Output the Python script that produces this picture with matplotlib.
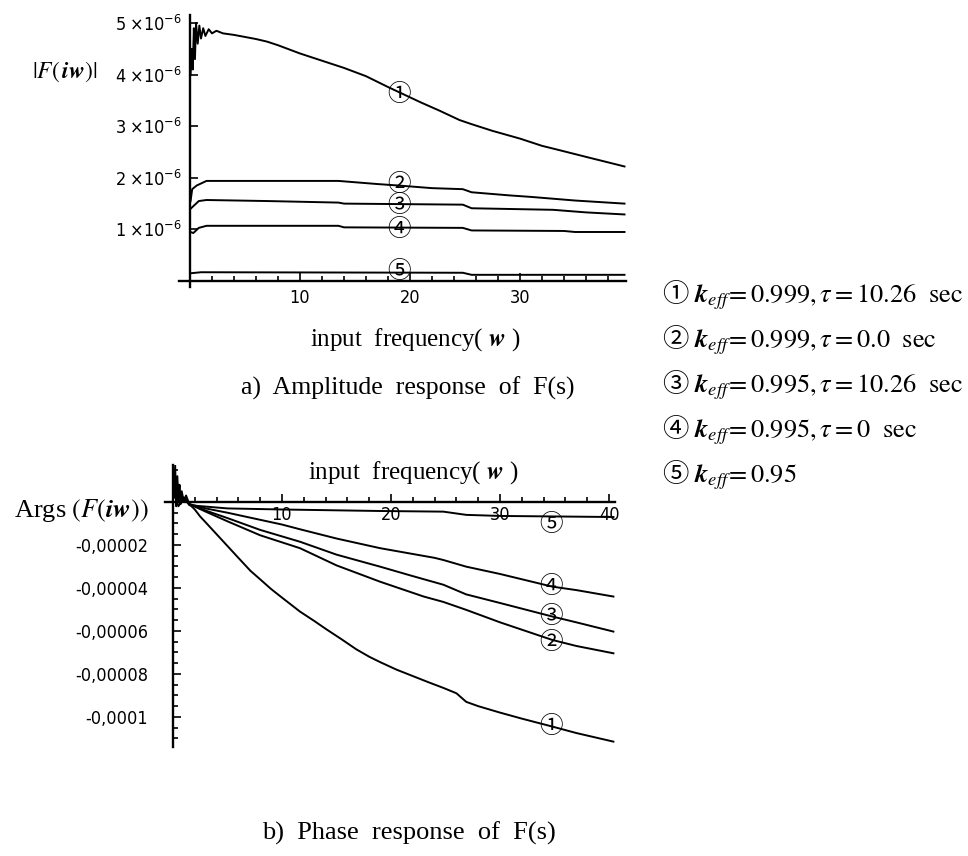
import numpy as np
import matplotlib
matplotlib.use("Agg")
import matplotlib.pyplot as plt
from matplotlib import font_manager
from matplotlib.font_manager import FontProperties
from matplotlib.mathtext import MathTextParser
from matplotlib.ticker import MultipleLocator

plt.rcParams['mathtext.fontset'] = 'stix'
plt.rcParams['font.family'] = ['Liberation Serif', 'DejaVu Serif']

avail = {f.name for f in font_manager.fontManager.ttflist}
TICKPROP = None
if 'Liberation Sans Narrow' in avail:
    TICKPROP = FontProperties(family='Liberation Sans Narrow', size=13)
else:
    try:
        p = font_manager.findfont(FontProperties(family='DejaVu Sans', stretch='condensed'))
        if 'Condensed' in p:
            TICKPROP = FontProperties(fname=p, size=13)
    except Exception:
        TICKPROP = None
if TICKPROP is None:
    TICKPROP = FontProperties(family='Liberation Sans', size=13)
CIRCFONT = ['Noto Sans CJK JP', 'DejaVu Sans']


def mt_ok(s):
    try:
        MathTextParser('path').parse(s)
        return True
    except Exception:
        return False


BOLD = mt_ok(r"$\boldsymbol{k}$")


def bsym(t):
    return r"\boldsymbol{%s}" % t if BOLD else t


# ---------------- data: a) amplitude |F(iw)| (units of 1e-6) ----------------
amp_w1 = [0.05, 0.15, 0.25, 0.35, 0.45, 0.55, 0.7, 0.85, 1.0, 1.2, 1.4, 1.7, 2.0,
          2.4, 3, 4, 5, 6, 7, 8, 9, 10, 12, 14, 16, 18, 19.4, 21, 22.7, 24.5, 25.6,
          27.5, 30, 32, 33.7, 36.3, 38, 39.5]
amp_v1 = [4.0, 4.5, 4.1, 4.9, 4.3, 5.0, 4.6, 4.95, 4.7, 4.9, 4.75, 4.88, 4.8,
          4.85, 4.8, 4.77, 4.73, 4.69, 4.64, 4.57, 4.49, 4.41, 4.27, 4.13, 3.97, 3.76, 3.62,
          3.46, 3.3, 3.12, 3.04, 2.91, 2.76, 2.62, 2.53, 2.39, 2.3, 2.22]
amp_w2 = [0.05, 0.2, 0.6, 1.5, 13.5, 17, 19, 22, 24.8, 25.6, 29, 31, 35, 38, 39.5]
amp_v2 = [1.55, 1.78, 1.85, 1.94, 1.94, 1.88, 1.85, 1.80, 1.78, 1.72, 1.66, 1.63, 1.56, 1.52, 1.50]
amp_w3 = [0.05, 0.3, 0.8, 1.5, 7, 13.5, 14, 24.8, 25.6, 33, 36, 39.5]
amp_v3 = [1.40, 1.45, 1.55, 1.57, 1.55, 1.52, 1.50, 1.48, 1.41, 1.38, 1.33, 1.29]
amp_w4 = [0.05, 0.3, 0.8, 1.5, 13.5, 14, 24.8, 25.6, 34, 35, 39.5]
amp_v4 = [0.95, 0.93, 1.03, 1.07, 1.07, 1.04, 1.03, 0.98, 0.97, 0.95, 0.95]
amp_w5 = [0.05, 1.0, 24.8, 25.6, 39.5]
amp_v5 = [0.15, 0.17, 0.16, 0.12, 0.12]

amp_ticks = [1, 2, 3, 4, 5]
amp_ticklabels = [r"$\mathregular{%d\ {\times}10^{-6}}$" % k for k in amp_ticks]
freq_ticks_a = [10, 20, 30]

# ---------------- data: b) phase Arg(F(iw)) (units of 1e-5) ----------------
ph_w1 = [0.1, 0.2, 0.3, 0.4, 0.5, 0.6, 0.7, 0.8, 1.0, 1.2, 1.5, 2.0, 2.5, 3, 4, 5, 6, 7.1,
         8, 9, 10, 11.65, 13, 14, 15.5, 16.8, 18, 19, 20.5, 22, 23.5, 24.8, 26, 26.9,
         28, 30, 32, 34.8, 37, 40.4]
ph_v1 = [0.2, 1.7, -0.2, 1.2, 0.1, 0.8, -0.1, 0.5, 0.0, 0.3, -0.1, -0.35, -0.68, -0.95,
         -1.5, -2.05, -2.6, -3.2, -3.6, -4.05, -4.45, -5.1, -5.55, -5.9, -6.4, -6.85,
         -7.2, -7.45, -7.8, -8.1, -8.4, -8.65, -8.9, -9.3, -9.5, -9.8, -10.08, -10.45,
         -10.75, -11.15]
ph_w2 = [0.1, 0.5, 1.0, 1.5, 3, 5, 8, 11.65, 15, 19, 23, 24.8, 26.9, 30, 34.8, 37, 40.4]
ph_v2 = [0.3, 0.1, 0.2, -0.1, -0.45, -0.9, -1.55, -2.15, -2.95, -3.71, -4.4, -4.65, -5.02,
         -5.6, -6.42, -6.7, -7.04]
ph_w3 = [0.1, 0.5, 1.0, 1.5, 3, 5, 8, 11.65, 15, 19, 22, 24.8, 26.9, 30, 34.8, 37, 40.4]
ph_v3 = [0.3, 0.1, 0.2, -0.1, -0.4, -0.75, -1.3, -1.85, -2.45, -3.01, -3.45, -3.85, -4.3,
         -4.7, -5.33, -5.6, -6.03]
ph_w4 = [0.1, 0.5, 1.0, 1.5, 3, 5, 10, 11.65, 15, 19, 24, 24.8, 26.9, 30, 34.8, 37, 40.4]
ph_v4 = [0.3, 0.1, 0.2, -0.1, -0.3, -0.5, -1.05, -1.27, -1.7, -2.15, -2.6, -2.7, -3.01,
         -3.35, -3.94, -4.1, -4.40]
ph_w5 = [0.1, 0.5, 1.0, 1.5, 5, 10, 19, 24.8, 26.9, 30, 40.4]
ph_v5 = [0.5, -0.2, 0.2, -0.15, -0.3, -0.35, -0.42, -0.45, -0.6, -0.65, -0.7]

ph_ticks = [-2e-5, -4e-5, -6e-5, -8e-5, -1e-4]
ph_ticklabels = ["-0,00002", "-0,00004", "-0,00006", "-0,00008", "-0,0001"]
freq_ticks_b = [10, 20, 30, 40]

curve_marks = ["①", "②", "③", "④", "⑤"]
legend_lines = [
    r"① $%s_{eff}\!=0.999,\tau=10.26\ \ \mathrm{sec}$" % bsym('k'),
    r"② $%s_{eff}\!=0.999,\tau=0.0\ \ \mathrm{sec}$" % bsym('k'),
    r"③ $%s_{eff}\!=0.995,\tau=10.26\ \ \mathrm{sec}$" % bsym('k'),
    r"④ $%s_{eff}\!=0.995,\tau=0\ \ \mathrm{sec}$" % bsym('k'),
    r"⑤ $%s_{eff}\!=0.95$" % bsym('k'),
]

# ---------------- figure ----------------
W, H = 968, 856
fig = plt.figure(figsize=(W / 100, H / 100), dpi=100)


def fx(px):
    return px / W


def fy(py):
    return 1 - py / H


def style_axes(ax):
    for s in ('top', 'right'):
        ax.spines[s].set_visible(False)
    for s in ('left', 'bottom'):
        ax.spines[s].set_position(('data', 0))
        ax.spines[s].set_linewidth(1.7)
        ax.spines[s].set_color('black')
    ax.tick_params(which='both', direction='in', color='black', width=1.2)
    ax.tick_params(which='major', length=6)
    ax.tick_params(which='minor', length=3.5)
    ax.patch.set_alpha(0)


def set_tick_font(ax):
    for lab in ax.get_xticklabels() + ax.get_yticklabels():
        lab.set_fontproperties(TICKPROP)


# a) amplitude
ax1 = fig.add_axes([fx(179), fy(287.2), fx(625.6) - fx(179), fy(15.3) - fy(287.2)])
AMP = 1e-6
for w, v in [(amp_w1, amp_v1), (amp_w2, amp_v2), (amp_w3, amp_v3), (amp_w4, amp_v4), (amp_w5, amp_v5)]:
    ax1.plot(w, np.array(v) * AMP, color='black', lw=1.4)
ax1.set_xlim(-1, 39.6)
ax1.set_ylim(-0.12e-6, 5.15e-6)
style_axes(ax1)
ax1.set_xticks(freq_ticks_a)
ax1.set_xticklabels([str(t) for t in freq_ticks_a])
ax1.xaxis.set_minor_locator(MultipleLocator(2))
ax1.set_yticks([t * AMP for t in amp_ticks])
ax1.set_yticklabels(amp_ticklabels)
set_tick_font(ax1)
ax1.tick_params(axis='x', which='major', pad=6)
ax1.tick_params(axis='y', which='major', pad=6)

amp_mark_w = 19.0
amp_mark_v = [3.62, 1.88, 1.47, 0.99, 0.18]
for m, v in zip(curve_marks, amp_mark_v):
    ax1.text(amp_mark_w, v * AMP, m, ha='center', va='center', fontsize=17,
             fontfamily=CIRCFONT, color='black')

# b) phase
ax2 = fig.add_axes([fx(164.8), fy(747), fx(614.5) - fx(164.8), fy(465) - fy(747)])
PH = 1e-5
for w, v in [(ph_w1, ph_v1), (ph_w2, ph_v2), (ph_w3, ph_v3), (ph_w4, ph_v4), (ph_w5, ph_v5)]:
    ax2.plot(w, np.array(v) * PH, color='black', lw=1.4)
ax2.set_xlim(-0.75, 40.5)
ax2.set_ylim(-1.14e-4, 1.72e-5)
style_axes(ax2)
ax2.set_xticks(freq_ticks_b)
ax2.set_xticklabels([str(t) for t in freq_ticks_b])
ax2.xaxis.set_minor_locator(MultipleLocator(2))
ax2.set_yticks(ph_ticks)
ax2.set_yticklabels(ph_ticklabels)
set_tick_font(ax2)
ax2.yaxis.set_minor_locator(MultipleLocator(0.5e-5))
ax2.tick_params(axis='x', which='major', pad=3)
ax2.tick_params(axis='y', which='major', pad=18)

ph_mark_w = 34.7
ph_mark_v = [-10.45, -6.54, -5.33, -3.94, -1.07]
for m, v in zip(curve_marks, ph_mark_v):
    ax2.text(ph_mark_w, v * PH, m, ha='center', va='center', fontsize=17,
             fontfamily=CIRCFONT, color='black')

# ---------------- texts ----------------
fig.text(fx(65), fy(72), r"$|F(\,%s)|$" % bsym('iw'), ha='center', va='center', fontsize=17)
fig.text(fx(415), fy(340), r"input  frequency( $%s$ )" % bsym('w'), ha='center', va='center', fontsize=18)
fig.text(fx(408), fy(388), "a)  Amplitude  response  of  F(s)", ha='center', va='center', fontsize=18.5)
fig.text(fx(413), fy(473), r"input  frequency( $%s$ )" % bsym('w'), ha='center', va='center', fontsize=18)
fig.text(fx(81), fy(510), r"Args $(F(%s))$" % bsym('iw'), ha='center', va='center', fontsize=19)
fig.text(fx(409), fy(833), "b)  Phase  response  of  F(s)", ha='center', va='center', fontsize=19)

leg_y = [295, 340, 385, 430, 475]
for s, y in zip(legend_lines, leg_y):
    fig.text(fx(662), fy(y), s, ha='left', va='center', fontsize=19, fontfamily=CIRCFONT)

fig.savefig("out.png", dpi=100, facecolor='white')
